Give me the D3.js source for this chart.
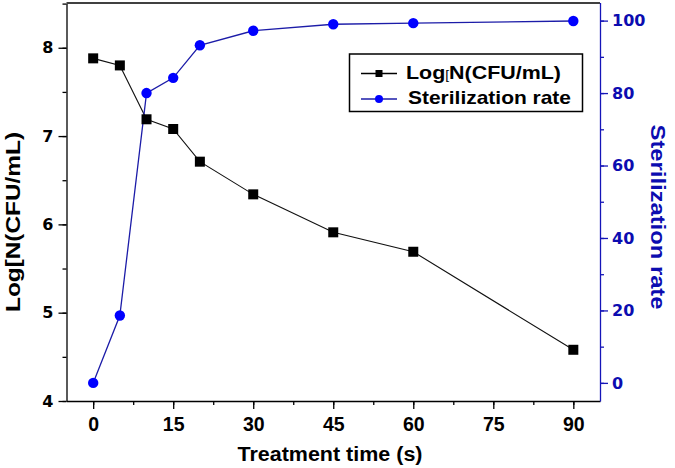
<!DOCTYPE html>
<html>
<head>
<meta charset="utf-8">
<script src="https://cdn.jsdelivr.net/npm/d3@7"></script>
<style>
  html, body { margin: 0; padding: 0; background: #fff; }
  svg { display: block; }
</style>
</head>
<body>
<svg id="chart" width="675" height="468"></svg>
<script>
const times = [0, 5, 10, 15, 20, 30, 45, 60, 90];
const logN = [7.88, 7.80, 7.19, 7.08, 6.71, 6.34, 5.91, 5.69, 4.58];
const sterilRate = [0, 18.6, 80.0, 84.2, 93.2, 97.2, 99.0, 99.3, 99.9];
const xTicks = [0, 15, 30, 45, 60, 75, 90];
const yLeftTicks = [4, 5, 6, 7, 8];
const yRightTicks = [0, 20, 40, 60, 80, 100];
const seriesNames = ["Log[N(CFU/mL)", "Sterilization rate"];
const xTitle = "Treatment time (s)";
const yLeftTitle = "Log[N(CFU/mL)";
const yRightTitle = "Sterilization rate";

const L = 66.5, R = 600, T = 3, B = 401;
const blue = "#0000ff", blueLine = "#1c1ca8", blueAxis = "#1515b8";

const svg = d3.select("#chart");
const x = d3.scaleLinear().domain([-5, 95]).range([L, R]);
const yL = d3.scaleLinear().domain([4, 8.5]).range([B, 3.6]);
const yR = d3.scaleLinear().domain([-5, 105]).range([B, 2.5]);
const fmt = d3.format("d");

// frame top
svg.append("line").attr("x1", L).attr("x2", R).attr("y1", T).attr("y2", T)
  .attr("stroke", "#000").attr("stroke-width", 1.3);

function styleAxis(g, color) {
  g.select(".domain").attr("stroke", color).attr("stroke-width", 1.3);
  g.selectAll(".tick line").attr("stroke", color).attr("stroke-width", 1.3);
}

// x axis minor
const gxm = svg.append("g").attr("transform", `translate(0,${B})`)
  .call(d3.axisBottom(x).tickValues(d3.range(0, 91, 7.5)).tickSize(4).tickFormat(""));
styleAxis(gxm, "#000"); gxm.select(".domain").remove();
const gx = svg.append("g").attr("transform", `translate(0,${B})`)
  .call(d3.axisBottom(x).tickValues(xTicks).tickFormat(fmt).tickSize(8).tickSizeOuter(0).tickPadding(4));
styleAxis(gx, "#000");
gx.selectAll(".tick text").attr("font-family", "Liberation Sans, Arial, sans-serif")
  .attr("font-weight", "bold").attr("font-size", 19.5).attr("fill", "#000")
  .attr("dy", null).attr("y", 30);

// left axis
const gym = svg.append("g").attr("transform", `translate(${L},0)`)
  .call(d3.axisLeft(yL).tickValues(d3.range(4, 8.51, 0.5)).tickSize(4).tickFormat(""));
styleAxis(gym, "#000"); gym.select(".domain").remove();
const gy = svg.append("g").attr("transform", `translate(${L},0)`)
  .call(d3.axisLeft(yL).tickValues(yLeftTicks).tickFormat(fmt).tickSize(8).tickSizeOuter(0).tickPadding(5));
styleAxis(gy, "#000");
gy.selectAll(".tick text").attr("font-family", "DejaVu Sans, sans-serif")
  .attr("font-weight", "bold").attr("font-size", 16).attr("fill", "#000");

// right axis
const grm = svg.append("g").attr("transform", `translate(${R},0)`)
  .call(d3.axisRight(yR).tickValues(d3.range(0, 101, 10)).tickSize(4).tickFormat(""));
styleAxis(grm, blueAxis); grm.select(".domain").remove();
const gr = svg.append("g").attr("transform", `translate(${R},0)`)
  .call(d3.axisRight(yR).tickValues(yRightTicks).tickFormat(fmt).tickSize(8).tickSizeOuter(0).tickPadding(4));
styleAxis(gr, blueAxis);
gr.selectAll(".tick text").attr("font-family", "DejaVu Sans, sans-serif")
  .attr("font-weight", "bold").attr("font-size", 16).attr("fill", "#0c0cb0");

// lines
const lineL = d3.line().x((d, i) => x(times[i])).y(d => yL(d));
const lineR = d3.line().x((d, i) => x(times[i])).y(d => yR(d));
svg.append("path").attr("d", lineL(logN)).attr("fill", "none").attr("stroke", "#111").attr("stroke-width", 1.1);
svg.append("path").attr("d", lineR(sterilRate)).attr("fill", "none").attr("stroke", blueLine).attr("stroke-width", 1.3);

svg.selectAll("rect.sq").data(logN).enter().append("rect").attr("class", "sq")
  .attr("x", (d, i) => x(times[i]) - 5).attr("y", d => yL(d) - 5)
  .attr("width", 10).attr("height", 10).attr("fill", "#000");
svg.selectAll("circle.ci").data(sterilRate).enter().append("circle").attr("class", "ci")
  .attr("cx", (d, i) => x(times[i])).attr("cy", d => yR(d)).attr("r", 5.2).attr("fill", blue);

// legend
const lg = svg.append("g");
lg.append("rect").attr("x", 349.5).attr("y", 54).attr("width", 233).attr("height", 57.5)
  .attr("fill", "#fff").attr("stroke", "#000").attr("stroke-width", 1.5);
const legY = [73.5, 99];
lg.append("line").attr("x1", 361).attr("x2", 397).attr("y1", legY[0]).attr("y2", legY[0]).attr("stroke", "#000").attr("stroke-width", 1.3);
lg.append("rect").attr("x", 375.5).attr("y", legY[0] - 3.5).attr("width", 7).attr("height", 7).attr("fill", "#000");
lg.append("line").attr("x1", 361).attr("x2", 397).attr("y1", legY[1]).attr("y2", legY[1]).attr("stroke", blueLine).attr("stroke-width", 1.3);
lg.append("circle").attr("cx", 379).attr("cy", legY[1]).attr("r", 4).attr("fill", blue);
const t1 = lg.append("text").attr("x", 406).attr("y", 79).attr("font-family", "Liberation Sans, Arial, sans-serif")
  .attr("font-size", 18.5).attr("font-weight", "bold").attr("fill", "#000")
  .attr("textLength", 155).attr("lengthAdjust", "spacingAndGlyphs");
t1.append("tspan").text(seriesNames[0].slice(0, 3));
t1.append("tspan").attr("font-size", 12).attr("font-weight", "normal").text(seriesNames[0].slice(3, 4));
t1.append("tspan").text(seriesNames[0].slice(4));
lg.append("text").attr("x", 408).attr("y", 104).attr("font-family", "Liberation Sans, Arial, sans-serif")
  .attr("font-size", 18.5).attr("font-weight", "bold").attr("fill", "#000")
  .attr("textLength", 163).attr("lengthAdjust", "spacingAndGlyphs").text(seriesNames[1]);

// axis titles
svg.append("text").attr("x", 330).attr("y", 460.5).attr("text-anchor", "middle")
  .attr("font-family", "Liberation Sans, Arial, sans-serif").attr("font-weight", "bold")
  .attr("font-size", 19.5).attr("textLength", 185).attr("lengthAdjust", "spacingAndGlyphs").text(xTitle);
svg.append("text").attr("transform", "translate(20,222) rotate(-90)").attr("text-anchor", "middle")
  .attr("font-family", "Liberation Sans, Arial, sans-serif").attr("font-weight", "bold")
  .attr("font-size", 19.5).attr("textLength", 180).attr("lengthAdjust", "spacingAndGlyphs").text(yLeftTitle);
svg.append("text").attr("transform", "translate(651,217) rotate(90)").attr("text-anchor", "middle")
  .attr("font-family", "Liberation Sans, Arial, sans-serif").attr("font-weight", "bold")
  .attr("font-size", 19.5).attr("fill", "#0c0cb0").attr("textLength", 185).attr("lengthAdjust", "spacingAndGlyphs").text(yRightTitle);
</script>
</body>
</html>
